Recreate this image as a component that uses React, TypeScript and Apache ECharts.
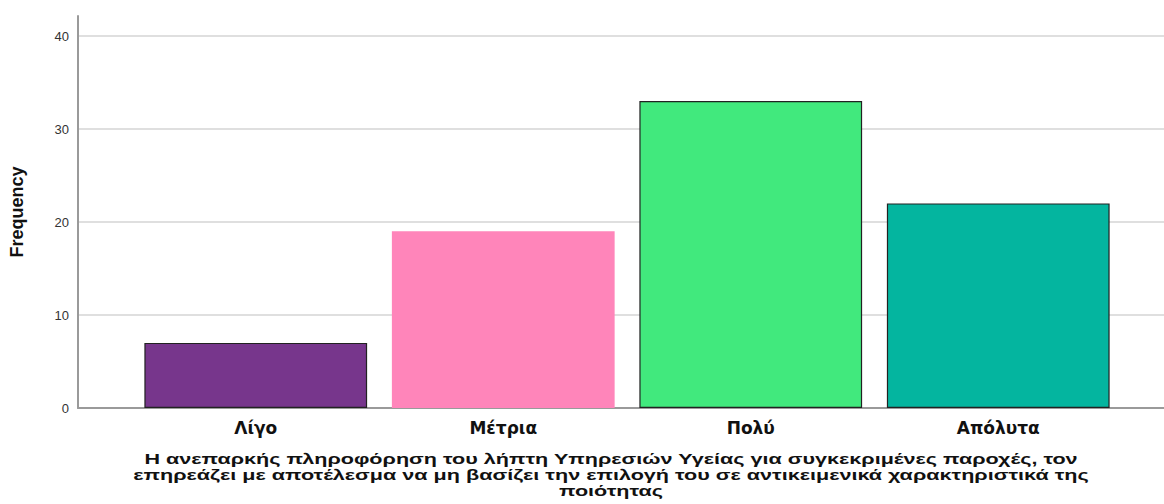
import React, { useEffect, useRef } from "react";
import * as echarts from "echarts";

const categories = ["Λίγο", "Μέτρια", "Πολύ", "Απόλυτα"];
const frequencies = [7, 19, 33, 22];
const yTicks = [0, 10, 20, 30, 40];
const axisTitleLines = [
  "Η ανεπαρκής πληροφόρηση του λήπτη Υπηρεσιών Υγείας για συγκεκριμένες παροχές, τον",
  "επηρεάζει με αποτέλεσμα να μη βασίζει την επιλογή του σε αντικειμενικά χαρακτηριστικά της",
  "ποιότητας",
];
const barColors = ["#77368C", "#FF85BA", "#41E97D", "#04B59F"];
const barBorders = ["#222222", "#FF85BA", "#222222", "#222222"];

export default function App() {
  const ref = useRef<HTMLDivElement>(null);
  useEffect(() => {
    if (!ref.current) return;
    const chart = echarts.init(ref.current, undefined, { renderer: "svg" });
    const font = "'Liberation Sans', Arial, sans-serif";
    chart.setOption({
      animation: false,
      backgroundColor: "#ffffff",
      grid: [
        { left: 78, right: 0, top: 16, bottom: 96 },
        { left: 78, right: 0, top: 36, bottom: 96 },
        { left: 132, right: 42, top: 36, bottom: 96 },
      ],
      xAxis: [
        { gridIndex: 0, type: "value", show: false, min: 0, max: 1 },
        {
          gridIndex: 1, type: "value", min: 0, max: 1,
          axisLine: { show: true, lineStyle: { color: "#9a9a9a", width: 2 } },
          axisLabel: { show: false }, axisTick: { show: false }, splitLine: { show: false },
        },
        {
          gridIndex: 2, type: "category", data: categories,
          axisLine: { show: false }, axisTick: { show: false },
          axisLabel: { margin: 11, fontSize: 17, fontWeight: "bold", color: "#111", fontFamily: "'DejaVu Sans', sans-serif" },
        },
      ],
      yAxis: [
        {
          gridIndex: 0, type: "value", min: 0, max: 42,
          axisLine: { show: true, lineStyle: { color: "#9a9a9a", width: 2 } },
          axisLabel: { show: false }, axisTick: { show: false }, splitLine: { show: false },
          name: "Frequency", nameLocation: "middle", nameGap: 52, nameRotate: 90,
          nameTextStyle: { fontSize: 18, fontWeight: "bold", color: "#111", fontFamily: "'Liberation Sans Narrow', 'Liberation Sans', Arial, sans-serif" },
        },
        {
          gridIndex: 1, type: "value", min: yTicks[0], max: yTicks[yTicks.length - 1], interval: 10,
          axisLine: { show: false }, axisTick: { show: false },
          axisLabel: { margin: 9, fontSize: 13, color: "#333", fontFamily: font },
          splitLine: { show: true, lineStyle: { color: "#d4d4d4", width: 1.5 } },
        },
        { gridIndex: 2, type: "value", min: 0, max: 40, show: false },
      ],
      series: [
        {
          type: "bar", xAxisIndex: 2, yAxisIndex: 2,
          barCategoryGap: "10%",
          data: frequencies.map((v, i) => ({
            value: v,
            itemStyle: { color: barColors[i], borderColor: barBorders[i], borderWidth: 1.2 },
          })),
        },
      ],
      graphic: [
        {
          type: "text", x: 611, y: 451, scaleX: 1.44,
          style: {
            text: axisTitleLines.join("\n"), align: "center", verticalAlign: "top",
            font: "bold 15px 'Liberation Sans', Arial, sans-serif", lineHeight: 16, fill: "#111",
          },
        },
      ],
    });
    return () => chart.dispose();
  }, []);
  return <div ref={ref} style={{ position: "fixed", left: 0, top: 0, width: 1164, height: 504 }} />;
}
